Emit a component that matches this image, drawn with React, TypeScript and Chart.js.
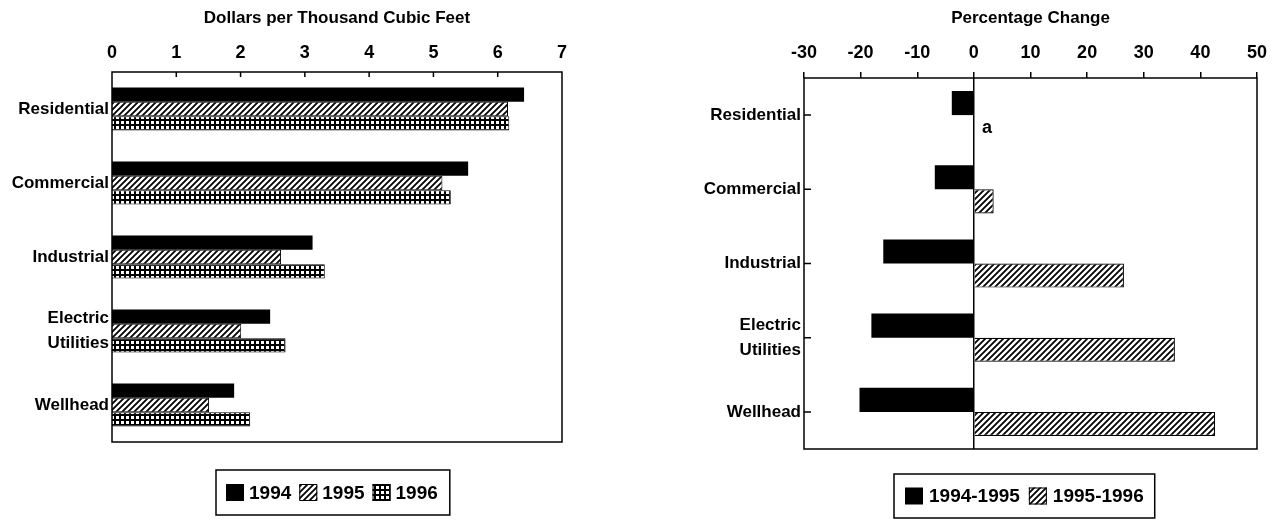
import React, { useEffect, useRef } from "react";
import { Chart, registerables } from "chart.js";

Chart.register(...registerables);

const FONT = "'Liberation Sans', Arial, Helvetica, sans-serif";

// ---------- Data: left chart (prices) ----------
const priceTitle = "Dollars per Thousand Cubic Feet";
const priceCategories: (string | string[])[] = [
  "Residential",
  "Commercial",
  "Industrial",
  ["Electric", "Utilities"],
  "Wellhead",
];
const priceSeriesLabels = ["1994", "1995", "1996"];
const price1994 = [6.41, 5.54, 3.12, 2.46, 1.9];
const price1995 = [6.16, 5.14, 2.63, 2.01, 1.51];
const price1996 = [6.18, 5.27, 3.31, 2.7, 2.15];
const priceAxisMin = 0;
const priceAxisMax = 7;
const priceAxisStep = 1;

// ---------- Data: right chart (percentage change) ----------
const changeTitle = "Percentage Change";
const changeCategories: (string | string[])[] = [
  "Residential",
  "Commercial",
  "Industrial",
  ["Electric", "Utilities"],
  "Wellhead",
];
const changeSeriesLabels = ["1994-1995", "1995-1996"];
const change9495 = [-3.9, -6.9, -16.0, -18.1, -20.2];
const change9596: (number | null)[] = [null, 3.5, 26.5, 35.5, 42.6];
const changeNote = "a"; // shown where the 1995-1996 Residential change is too small to draw
const changeAxisMin = -30;
const changeAxisMax = 50;
const changeAxisStep = 10;

// ---------- Patterns ----------
function makeHatch(): CanvasPattern | string {
  const s = 6;
  const c = document.createElement("canvas");
  c.width = s;
  c.height = s;
  const g = c.getContext("2d");
  if (!g) return "#888";
  g.fillStyle = "#fff";
  g.fillRect(0, 0, s, s);
  g.strokeStyle = "#000";
  g.lineWidth = 1.8;
  g.beginPath();
  for (const k of [0, s, 2 * s]) {
    g.moveTo(-1, k + 1);
    g.lineTo(k + 1, -1);
  }
  g.stroke();
  return g.createPattern(c, "repeat") || "#888";
}

function makeGrid(): CanvasPattern | string {
  const s = 5;
  const c = document.createElement("canvas");
  c.width = s;
  c.height = s;
  const g = c.getContext("2d");
  if (!g) return "#444";
  g.fillStyle = "#000";
  g.fillRect(0, 0, s, s);
  g.fillStyle = "#fff";
  g.fillRect(1, 1, 3, 3);
  return g.createPattern(c, "repeat") || "#444";
}

// ---------- Plugins ----------
const framePlugin = {
  id: "frame",
  afterDatasetsDraw(chart: any) {
    const a = chart.chartArea;
    const ctx = chart.ctx;
    ctx.save();
    ctx.strokeStyle = "#000";
    ctx.lineWidth = 1.5;
    ctx.strokeRect(a.left, a.top, a.right - a.left, a.bottom - a.top);
    ctx.restore();
  },
};

const innerTicksPlugin = {
  id: "innerTicks",
  afterDatasetsDraw(chart: any, _args: any, opts: any) {
    if (!opts || !opts.axis) return;
    const scale = chart.scales[opts.axis];
    const a = chart.chartArea;
    const ctx = chart.ctx;
    ctx.save();
    ctx.strokeStyle = "#000";
    ctx.lineWidth = 1.5;
    ctx.beginPath();
    scale.ticks.forEach((_t: any, i: number) => {
      const p = scale.getPixelForTick(i);
      if (opts.axis === "x") {
        if (i === 0 || i === scale.ticks.length - 1) return;
        ctx.moveTo(p, a.top);
        ctx.lineTo(p, a.top + opts.length);
      } else {
        ctx.moveTo(a.left, p);
        ctx.lineTo(a.left + opts.length, p);
      }
    });
    ctx.stroke();
    ctx.restore();
  },
};

const boxLegendPlugin = {
  id: "boxLegend",
  afterDraw(chart: any, _args: any, opts: any) {
    if (!opts || !opts.display) return;
    const ctx = chart.ctx;
    const font = `bold ${opts.fontSize}px ${FONT}`;
    ctx.save();
    ctx.font = font;
    const items = chart.data.datasets.map((d: any) => ({
      label: d.label,
      fill: d.backgroundColor,
      border: d.borderWidth ? d.borderColor : null,
      w: ctx.measureText(d.label).width,
    }));
    let width = opts.padLeft + opts.padRight;
    items.forEach((it: any, i: number) => {
      width += opts.square + opts.gap + it.w + (i > 0 ? opts.itemGap : 0);
    });
    const x0 = opts.x;
    const y0 = opts.y;
    const h = opts.height;
    ctx.strokeStyle = "#000";
    ctx.lineWidth = 1.5;
    ctx.strokeRect(x0, y0, width, h);
    const cy = y0 + h / 2;
    let x = x0 + opts.padLeft;
    items.forEach((it: any, i: number) => {
      if (i > 0) x += opts.itemGap;
      const sq = opts.square;
      const sh = opts.squareH;
      ctx.fillStyle = it.fill;
      ctx.fillRect(x, cy - sh / 2, sq, sh);
      if (it.border) {
        ctx.strokeStyle = it.border;
        ctx.lineWidth = 1;
        ctx.strokeRect(x + 0.5, cy - sh / 2 + 0.5, sq - 1, sh - 1);
      }
      x += sq + opts.gap;
      ctx.fillStyle = "#000";
      ctx.textAlign = "left";
      ctx.textBaseline = "middle";
      ctx.fillText(it.label, x, cy + 1);
      x += it.w;
    });
    ctx.restore();
  },
};

const notePlugin = {
  id: "note",
  afterDatasetsDraw(chart: any, _args: any, opts: any) {
    if (!opts || !opts.text) return;
    const xs = chart.scales.x;
    const ys = chart.scales.y;
    const ctx = chart.ctx;
    ctx.save();
    ctx.font = `bold ${opts.fontSize}px ${FONT}`;
    ctx.fillStyle = "#000";
    ctx.textAlign = "left";
    ctx.textBaseline = "middle";
    const x = xs.getPixelForValue(opts.value) + opts.dx;
    const y = ys.getPixelForValue(opts.index) + opts.dy;
    ctx.fillText(opts.text, x, y);
    ctx.restore();
  },
};

const tickFont = { family: FONT, size: 18, weight: "bold" as const };
const catFont = { family: FONT, size: 17, weight: "bold" as const, lineHeight: 1.45 };
const titleFont = { family: FONT, size: 17, weight: "bold" as const };

function PriceChart() {
  const ref = useRef<HTMLCanvasElement | null>(null);
  useEffect(() => {
    if (!ref.current) return;
    const hatch = makeHatch();
    const grid = makeGrid();
    const chart = new Chart(ref.current, {
      type: "bar",
      data: {
        labels: priceCategories as any,
        datasets: [
          { label: priceSeriesLabels[0], data: price1994, backgroundColor: "#000", borderWidth: 0 },
          { label: priceSeriesLabels[1], data: price1995, backgroundColor: hatch as any, borderColor: "#000", borderWidth: 1 },
          { label: priceSeriesLabels[2], data: price1996, backgroundColor: grid as any, borderColor: "#000", borderWidth: 1 },
        ],
      },
      options: {
        indexAxis: "y",
        responsive: false,
        animation: false,
        devicePixelRatio: 1,
        events: [],
        layout: { padding: { left: 0, right: 78, top: 0, bottom: 78 } },
        datasets: { bar: { categoryPercentage: 0.58, barPercentage: 1 } },
        scales: {
          x: {
            position: "top",
            min: priceAxisMin,
            max: priceAxisMax,
            ticks: { stepSize: priceAxisStep, font: tickFont, color: "#000", padding: 8 },
            grid: { display: false, drawTicks: false },
            border: { display: false },
            title: {
              display: true,
              text: priceTitle,
              font: titleFont,
              color: "#000",
              padding: { top: 8, bottom: 0 },
            },
            afterFit: (s: any) => {
              s.height = 72;
            },
          },
          y: {
            ticks: { font: catFont, color: "#000", padding: 3 },
            grid: { display: false, drawTicks: false },
            border: { display: false },
            afterFit: (s: any) => {
              s.width = 112;
            },
          },
        },
        plugins: {
          legend: { display: false },
          tooltip: { enabled: false },
          innerTicks: { axis: "x", length: 5 },
          boxLegend: {
            display: true,
            x: 216,
            y: 470,
            height: 45,
            fontSize: 19,
            square: 18,
            squareH: 17,
            gap: 5,
            itemGap: 8,
            padLeft: 10,
            padRight: 12,
          },
        } as any,
      },
      plugins: [framePlugin, innerTicksPlugin, boxLegendPlugin],
    });
    return () => chart.destroy();
  }, []);
  return (
    <canvas
      ref={ref}
      width={640}
      height={520}
      style={{ position: "absolute", left: 0, top: 0, width: 640, height: 520 }}
    />
  );
}

function ChangeChart() {
  const ref = useRef<HTMLCanvasElement | null>(null);
  useEffect(() => {
    if (!ref.current) return;
    const hatch = makeHatch();
    const chart = new Chart(ref.current, {
      type: "bar",
      data: {
        labels: changeCategories as any,
        datasets: [
          { label: changeSeriesLabels[0], data: change9495, backgroundColor: "#000", borderWidth: 0 },
          { label: changeSeriesLabels[1], data: change9596 as any, backgroundColor: hatch as any, borderColor: "#000", borderWidth: 1.2 },
        ],
      },
      options: {
        indexAxis: "y",
        responsive: false,
        animation: false,
        devicePixelRatio: 1,
        events: [],
        layout: { padding: { left: 0, right: 20, top: 0, bottom: 71 } },
        datasets: { bar: { categoryPercentage: 0.65, barPercentage: 1 } },
        scales: {
          x: {
            position: "top",
            min: changeAxisMin,
            max: changeAxisMax,
            ticks: {
              stepSize: changeAxisStep,
              font: tickFont,
              color: "#000",
              padding: 8,
              callback: (v: any) => String(v),
            },
            grid: {
              display: true,
              drawOnChartArea: true,
              drawTicks: true,
              tickLength: 6,
              lineWidth: 1.5,
              tickWidth: 1.5,
              tickColor: "#000",
              color: (c: any) => (c.tick && c.tick.value === 0 ? "#000" : "rgba(0,0,0,0)"),
            },
            border: { display: false },
            title: {
              display: true,
              text: changeTitle,
              font: titleFont,
              color: "#000",
              padding: { top: 8, bottom: 0 },
            },
            afterFit: (s: any) => {
              s.height = 78;
            },
          },
          y: {
            ticks: { font: catFont, color: "#000", padding: 3 },
            grid: { display: false, drawTicks: false },
            border: { display: false },
            afterFit: (s: any) => {
              s.width = 164;
            },
          },
        },
        plugins: {
          legend: { display: false },
          tooltip: { enabled: false },
          innerTicks: { axis: "y", length: 7 },
          note: { text: changeNote, value: 0, index: 0, dx: 8, dy: 13, fontSize: 18 },
          boxLegend: {
            display: true,
            x: 254,
            y: 474,
            height: 44,
            fontSize: 19,
            square: 18,
            squareH: 17,
            gap: 6,
            itemGap: 9,
            padLeft: 11,
            padRight: 11,
          },
        } as any,
      },
      plugins: [framePlugin, innerTicksPlugin, notePlugin, boxLegendPlugin],
    });
    return () => chart.destroy();
  }, []);
  return (
    <canvas
      ref={ref}
      width={637}
      height={520}
      style={{ position: "absolute", left: 640, top: 0, width: 637, height: 520 }}
    />
  );
}

export default function App() {
  return (
    <div
      style={{
        position: "absolute",
        left: 0,
        top: 0,
        width: 1277,
        height: 520,
        background: "#fff",
        overflow: "hidden",
      }}
    >
      <PriceChart />
      <ChangeChart />
    </div>
  );
}
